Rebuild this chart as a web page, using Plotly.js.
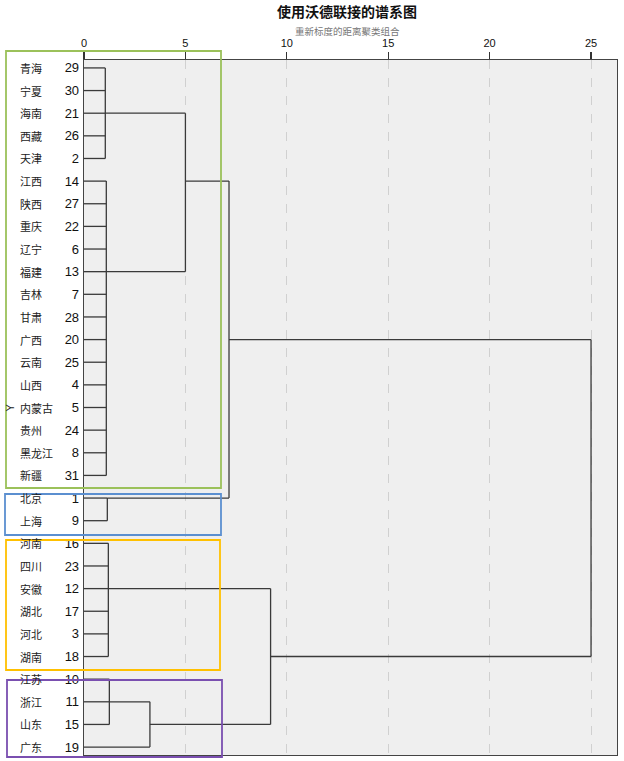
<!DOCTYPE html>
<html><head><meta charset="utf-8">
<script src="https://cdn.plot.ly/plotly-3.0.1.min.js"></script>
<style>body{margin:0;background:#fff}#chart{width:624px;height:761px}</style>
</head><body><div id="chart"></div>
<script>
// ---- data ----
const leafNames = ['青海','宁夏','海南','西藏','天津','江西','陕西','重庆','辽宁','福建','吉林','甘肃','广西','云南','山西','内蒙古','贵州','黑龙江','新疆','北京','上海','河南','四川','安徽','湖北','河北','湖南','江苏','浙江','山东','广东'];
const leafCases = [29,30,21,26,2,14,27,22,6,13,7,28,20,25,4,5,24,8,31,1,9,16,23,12,17,3,18,10,11,15,19];
// groups of cases joined at small rescaled distance
const groupMembers = [[29,30,21,26,2],[14,27,22,6,13,7,28,20,25,4,5,24,8,31],[1,9],[16,23,12,17,3,18],[10,11,15]];
const groupDistances = [1.05,1.1,1.15,1.2,1.25];
const groupRepCases = [21,13,1,12,11];
// binary merges; children: 'gN' group, 'mN' merge, or case number
const mergeChildren = [['g4',19],['g0','g1'],['m1','g2'],['g3','m0'],['m2','m3']];
const mergeDistances = [3.25,5.0,7.15,9.2,25.0];
const xTicks = [0,5,10,15,20,25];

// ---- build dendrogram segments ----
const rowOf = c => leafCases.indexOf(c);
const xs = [], ys = [];
function seg(x0,y0,x1,y1){ xs.push(x0,x1,null); ys.push(y0,y1,null); }
const nodes = {};
groupMembers.forEach((mem,i)=>{
  const d = groupDistances[i];
  const rows = mem.map(rowOf);
  rows.forEach(r=>seg(0,r,d,r));
  seg(d,Math.min(...rows),d,Math.max(...rows));
  nodes['g'+i] = {h:d,row:rowOf(groupRepCases[i])};
});
function nodeOf(c){ return typeof c==='number' ? {h:0,row:rowOf(c)} : nodes[c]; }
mergeChildren.forEach((ch,i)=>{
  const d = mergeDistances[i];
  const a = nodeOf(ch[0]), b = nodeOf(ch[1]);
  seg(a.h,a.row,d,a.row);
  seg(b.h,b.row,d,b.row);
  seg(d,a.row,d,b.row);
  nodes['m'+i] = {h:d,row:Math.floor((a.row+b.row)/2)};
});

const rows = leafCases.map((c,i)=>i);
const L = 84, T = 60, W = 533, H = 695;
const px = x => (x-L)/W, py = y => (T+H-y)/H;

const annotations = leafNames.map((n,i)=>({
  text:n, xref:'paper', yref:'y', x:px(18), y:i, xanchor:'left', yanchor:'middle',
  showarrow:false, font:{family:'Noto Sans CJK SC', size:11, color:'#222'}
}));
annotations.push({text:'Y', xref:'paper', yref:'y', x:px(9), y:15, textangle:-90,
  showarrow:false, xanchor:'center', yanchor:'middle', font:{family:'Liberation Sans', size:11, color:'#222'}});
annotations.push({text:'重新标度的距离聚类组合', xref:'paper', yref:'paper', x:px(347), y:py(30.5),
  showarrow:false, xanchor:'center', yanchor:'middle', font:{family:'Noto Sans CJK SC', size:9.5, color:'#777'}});

function box(x0,y0,x1,y1,c){ return {type:'rect',xref:'paper',yref:'paper',x0:px(x0),x1:px(x1),y0:py(y0),y1:py(y1),
  line:{color:c,width:1.8},fillcolor:'rgba(0,0,0,0)',layer:'above'}; }

const data = [{type:'scatter',mode:'lines',x:xs,y:ys,hoverinfo:'skip',
  line:{color:'#3a3a3a',width:1.3},showlegend:false}];

const layout = {
  width:624, height:761,
  margin:{l:L,r:624-L-W,t:T,b:761-T-H},
  paper_bgcolor:'#ffffff', plot_bgcolor:'#efefef',
  title:{text:'<b>使用沃德联接的谱系图</b>', x:347/624, xanchor:'center', y:1-12/761, yanchor:'middle',
    font:{family:'Noto Sans CJK SC', size:14, color:'#111'}},
  xaxis:{side:'top', range:[0,26.28], tickvals:xTicks, ticktext:xTicks.map(String),
    ticks:'outside', ticklen:7, tickwidth:1.3, tickcolor:'#333',
    tickfont:{family:'Liberation Sans', size:11, color:'#111'},
    showgrid:true, gridcolor:'#d0d0d0', griddash:'dash', gridwidth:1,
    showline:true, linecolor:'#444', linewidth:1.3, mirror:true, zeroline:false, fixedrange:true},
  yaxis:{range:[30.35,-0.35], tickvals:rows, ticktext:leafCases.map(String), ticks:'',
    ticklabelstandoff:1,
    tickfont:{family:'Liberation Sans', size:13, color:'#111'},
    showgrid:false, showline:true, linecolor:'#444', linewidth:1.3, mirror:true, zeroline:false, fixedrange:true},
  annotations:annotations,
  shapes:[box(6,51,221,488,'#9bc15a'), box(5,494,221,535,'#5b8fd0'),
          box(6,540,220,670,'#ffc000'), box(7,680,222,757,'#7a4fb0')]
};
Plotly.newPlot('chart', data, layout, {staticPlot:true, displayModeBar:false});
</script></body></html>
